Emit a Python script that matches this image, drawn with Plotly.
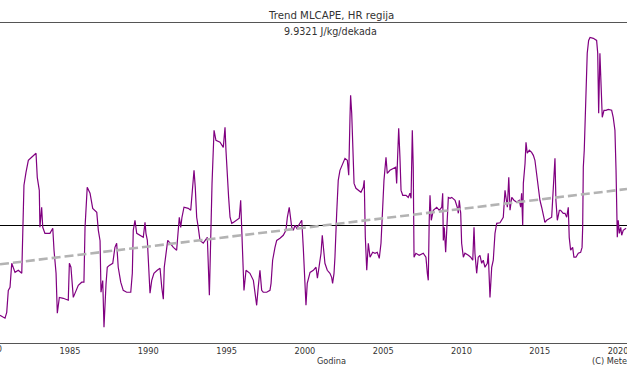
import plotly.graph_objects as go

# ---- data (decimal year, MLCAPE anomaly in J/kg) ----
years = [
    1980.53, 1980.85, 1980.96, 1981.06, 1981.17, 1981.28, 1981.49, 1981.70, 1981.92, 1981.98,
    1982.06, 1982.19, 1982.34, 1982.55, 1982.83, 1982.91, 1983.04, 1983.08, 1983.19, 1983.26,
    1983.40, 1983.72, 1983.90, 1983.98, 1984.11, 1984.19, 1984.32, 1984.57, 1984.89, 1984.96,
    1985.06, 1985.21, 1985.38, 1985.53, 1985.75, 1985.89, 1985.96, 1986.10, 1986.28, 1986.45,
    1986.71, 1986.81, 1986.92, 1986.98, 1987.09, 1987.17, 1987.30, 1987.38, 1987.51, 1987.73,
    1987.87, 1987.98, 1988.08, 1988.24, 1988.40, 1988.62, 1988.88, 1988.98, 1989.04, 1989.15,
    1989.26, 1989.47, 1989.68, 1989.79, 1989.85, 1989.94, 1990.03, 1990.11, 1990.22, 1990.36,
    1990.57, 1990.75, 1990.86, 1990.96, 1991.02, 1991.13, 1991.24, 1991.39, 1991.60, 1991.81,
    1991.92, 1991.98, 1992.07, 1992.15, 1992.28, 1992.55, 1992.71, 1992.77, 1992.84, 1992.92,
    1993.00, 1993.09, 1993.19, 1993.30, 1993.51, 1993.62, 1993.77, 1993.90, 1993.98, 1994.07,
    1994.15, 1994.20, 1994.32, 1994.58, 1994.79, 1994.90, 1994.96, 1995.05, 1995.13, 1995.22,
    1995.33, 1995.43, 1995.65, 1995.81, 1995.90, 1995.96, 1996.03, 1996.11, 1996.24, 1996.49,
    1996.71, 1996.81, 1996.92, 1997.02, 1997.13, 1997.24, 1997.34, 1997.56, 1997.77, 1997.84,
    1997.94, 1998.09, 1998.20, 1998.41, 1998.62, 1998.79, 1998.88, 1999.00, 1999.09, 1999.16,
    1999.26, 1999.37, 1999.48, 1999.69, 1999.80, 1999.90, 2000.01, 2000.07, 2000.15, 2000.33,
    2000.54, 2000.71, 2000.80, 2000.92, 2001.03, 2001.11, 2001.18, 2001.28, 2001.43, 2001.60,
    2001.71, 2001.77, 2001.86, 2001.92, 2002.03, 2002.13, 2002.24, 2002.41, 2002.56, 2002.71,
    2002.80, 2002.88, 2002.92, 2002.99, 2003.05, 2003.14, 2003.26, 2003.41, 2003.58, 2003.73,
    2003.79, 2003.86, 2003.95, 2004.05, 2004.16, 2004.33, 2004.48, 2004.62, 2004.75, 2004.86,
    2004.97, 2005.05, 2005.18, 2005.26, 2005.43, 2005.65, 2005.80, 2005.86, 2005.93, 2005.99,
    2006.07, 2006.14, 2006.25, 2006.46, 2006.60, 2006.71, 2006.78, 2006.86, 2006.92, 2006.97,
    2007.09, 2007.30, 2007.56, 2007.73, 2007.82, 2007.88, 2007.94, 2007.99, 2008.07, 2008.20,
    2008.42, 2008.58, 2008.74, 2008.80, 2008.84, 2008.90, 2008.99, 2009.06, 2009.16, 2009.27,
    2009.38, 2009.59, 2009.73, 2009.80, 2009.86, 2009.95, 2010.01, 2010.12, 2010.22, 2010.44,
    2010.59, 2010.72, 2010.80, 2010.86, 2010.97, 2011.07, 2011.18, 2011.29, 2011.39, 2011.50,
    2011.65, 2011.71, 2011.77, 2011.82, 2011.93, 2012.03, 2012.14, 2012.25, 2012.46, 2012.57,
    2012.67, 2012.78, 2012.84, 2012.93, 2013.02, 2013.10, 2013.21, 2013.35, 2013.53, 2013.69,
    2013.78, 2013.84, 2013.91, 2013.95, 2014.06, 2014.12, 2014.20, 2014.33, 2014.48, 2014.59,
    2014.69, 2014.80, 2014.91, 2015.01, 2015.12, 2015.22, 2015.33, 2015.44, 2015.61, 2015.76,
    2015.82, 2015.91, 2015.97, 2016.03, 2016.12, 2016.25, 2016.33, 2016.50, 2016.61, 2016.72,
    2016.82, 2016.88, 2016.97, 2017.10, 2017.18, 2017.31, 2017.46, 2017.61, 2017.70, 2017.74,
    2017.78, 2017.84, 2017.91, 2018.03, 2018.12, 2018.21, 2018.42, 2018.63, 2018.70, 2018.76,
    2018.84, 2018.91, 2018.99, 2019.10, 2019.23, 2019.37, 2019.59, 2019.69, 2019.80, 2019.87,
    2019.91, 2019.95, 2020.01, 2020.08, 2020.17, 2020.23, 2020.33, 2020.51,
]

mlcape = [
    -47.4, -48.9, -45.8, -34.2, -32.6, -19.9, -24.7, -23.6, -25.2, -4.1,
    21.3, 28.1, 34.5, 36.1, 38.2, 25.5, 18.6, -0.9, 9.7, -0.9,
    -4.1, -4.1, -1.4, -13.0, -25.2, -46.3, -37.9, -38.4, -39.4, -19.9,
    -22.0, -37.9, -34.2, -31.5, -29.9, -29.9, -0.9, 20.2, 17.1, 9.1,
    7.0, -2.5, -8.0, -35.2, -29.0, -53.7, -31.0, -22.0, -21.0, -19.9,
    -11.5, -9.3, -22.0, -29.9, -34.2, -35.2, -35.2, -25.2, -2.5, 2.8,
    -4.1, -5.1, -6.2, 1.7, -4.1, -7.8, -22.0, -35.7, -28.9, -25.2,
    -23.6, -22.5, -32.6, -38.9, -22.0, -14.6, -7.8, -9.3, -11.5, -13.0,
    -4.1, 4.4, -0.9, 4.4, 9.7, 9.1, 8.1, 13.4, 22.3, 29.2,
    20.2, 4.4, -0.9, -7.8, -9.3, -7.8, -6.2, -36.8, -0.9, 22.3,
    39.8, 50.3, 45.0, 44.0, 41.3, 51.9, 39.8, 23.9, 14.9, 4.4,
    1.2, 1.7, 2.8, 3.9, 13.4, 1.2, -18.3, -34.2, -23.6, -25.2,
    -28.9, -35.7, -42.1, -32.6, -23.6, -34.2, -35.2, -35.2, -34.2, -30.5,
    -18.3, -11.5, -7.8, -6.7, -5.1, -2.5, 4.4, 9.7, 2.8, -0.9,
    -2.5, 0.2, -1.4, 1.2, 2.8, -12.0, -33.0, -42.1, -30.5, -24.7,
    -23.6, -22.0, -27.8, -19.9, -14.6, -5.1, -13.0, -19.9, -23.6, -25.2,
    -27.3, -30.5, -25.2, -16.7, 6.5, 23.9, 29.2, 32.9, 35.5, 34.5,
    26.6, 57.2, 68.8, 59.3, 38.2, 22.3, 19.7, 18.6, 17.6, 20.2,
    23.9, -6.2, -23.6, -9.3, -16.7, -14.1, -14.6, -14.1, -17.3, -9.3,
    9.7, 23.9, 36.1, 27.6, 29.2, 30.3, 30.8, 22.3, 38.2, 51.4,
    36.1, 18.6, 16.0, 16.0, 14.9, 17.1, 14.4, 50.3, 30.8, -16.7,
    -14.6, -15.7, -14.6, -16.7, -25.2, -28.9, 2.8, 16.0, 2.8, 8.1,
    9.7, 8.1, 9.7, 17.1, -7.8, -0.9, -14.1, 1.2, 14.9, 14.4,
    14.9, 13.4, 9.7, 6.5, 13.4, 6.5, -9.3, -16.7, -14.6, -15.7,
    -16.7, -18.3, -0.9, -14.6, -25.2, -16.7, -15.7, -19.9, -18.3, -22.0,
    -19.9, -14.6, -25.2, -37.9, -22.0, -18.3, -4.1, 1.2, 1.5, 2.8,
    4.4, 18.6, 13.4, 9.7, 25.5, 8.1, 14.9, 13.4, 12.3, 13.4,
    9.7, 17.1, 0.2, 22.3, 32.9, 44.0, 38.2, 39.8, 38.7, 37.1,
    34.5, 27.6, 22.3, 13.4, 9.7, 6.5, 1.7, 2.8, 3.9, 4.4,
    13.4, 29.2, 35.5, 13.4, 2.8, 8.1, 8.1, 6.5, 6.5, 4.4,
    9.7, -6.2, -13.0, -11.5, -16.7, -16.7, -14.6, -14.1, -11.5, -0.9,
    30.8, 39.8, 59.3, 91.0, 97.8, 99.4, 98.9, 97.8, 91.0, 59.3,
    91.0, 73.0, 57.2, 60.9, 60.9, 61.4, 60.9, 57.2, 50.3, 29.2,
    9.7, -6.2, 2.8, -4.1, -0.9, -5.1, -2.5, -1.4,
]

# linear trend (J/kg per decade) and its value at year 2000
trend_per_decade = 9.9321
trend_at_2000 = -1.1

tick_years = [1980, 1985, 1990, 1995, 2000, 2005, 2010, 2015, 2020]
title_text = "Trend MLCAPE, HR regija"
subtitle_text = "9.9321 J/kg/dekada"
xlabel_text = "Godina"
credit_text = "(C) Meteorološki"

# ---- figure ----
x_range = [1980.53, 2020.57]
y_range = [-62.0, 107.0]

trend_x = x_range
trend_y = [trend_at_2000 + trend_per_decade / 10.0 * (x - 2000) for x in trend_x]

FONT = "DejaVu Sans"
TXT = "#333333"

fig = go.Figure()
fig.add_trace(go.Scatter(
    x=years, y=mlcape, mode="lines",
    line=dict(color="#800080", width=1.2),
    hoverinfo="skip", showlegend=False,
))
fig.add_trace(go.Scatter(
    x=trend_x, y=trend_y, mode="lines",
    line=dict(color="#b3b3b3", width=2.6, dash="9px,4px"),
    hoverinfo="skip", showlegend=False,
))

W, H = 627, 376
top, bottom = 23, 33
plot_h = H - top - bottom

def py(px):
    # pixel row -> paper y
    return (H - bottom - px) / plot_h

annotations = [
    dict(text=title_text, x=330.5 / W, y=py(15), font=dict(size=10.2, color=TXT, family=FONT)),
    dict(text=subtitle_text, x=330.5 / W, y=py(32), font=dict(size=9.6, color=TXT, family=FONT)),
    dict(text=xlabel_text, x=331 / W, y=py(361), font=dict(size=8.2, color=TXT, family=FONT)),
    dict(text=credit_text, x=590 / W, y=py(361), xanchor="left", font=dict(size=8.2, color=TXT, family=FONT)),
    dict(text=str(tick_years[0]), x=-8.3 / W, y=py(349), font=dict(size=8.2, color=TXT, family=FONT)),
]
for a in annotations:
    a.update(xref="paper", yref="paper", showarrow=False, yanchor="middle")
    a.setdefault("xanchor", "center")

fig.update_layout(
    width=W, height=H,
    margin=dict(l=0, r=0, t=top, b=bottom, pad=0),
    paper_bgcolor="white", plot_bgcolor="white",
    font=dict(family=FONT, size=8.2, color=TXT),
    annotations=annotations,
    showlegend=False,
)
fig.update_xaxes(
    range=x_range, tickvals=tick_years[1:],
    ticktext=[str(t) for t in tick_years[1:]],
    showgrid=False, zeroline=False, ticks="",
    showline=True, mirror=True, linecolor="#555555", linewidth=1.3,
    tickfont=dict(size=8.2, color=TXT, family=FONT),
    ticklabeloverflow="allow",
)
fig.update_yaxes(
    range=y_range, showgrid=False, showticklabels=False, ticks="",
    showline=False, zeroline=True, zerolinecolor="black", zerolinewidth=1.2,
)

fig.write_html(
    "out.html",
    config={"displayModeBar": False},
    post_script="document.body.style.margin='0';document.body.style.overflow='hidden';",
)
